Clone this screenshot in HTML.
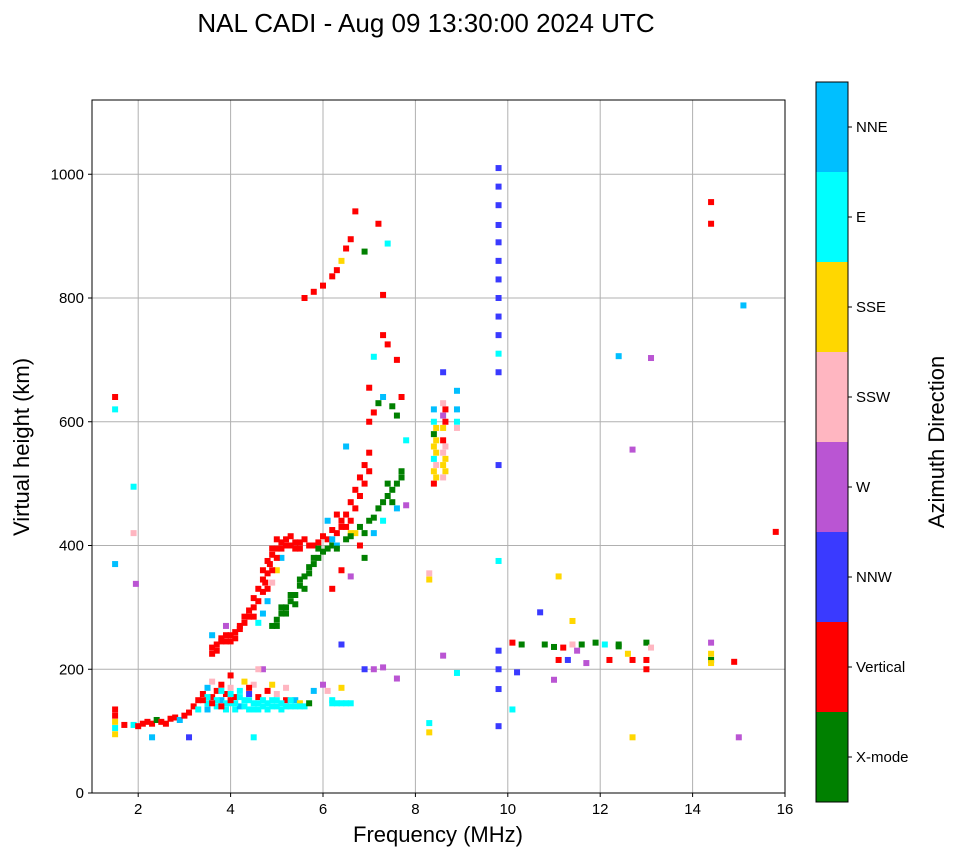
<!DOCTYPE html>
<html><head><meta charset="utf-8"><style>
body{margin:0;background:#fff;}
svg{display:block;font-family:"Liberation Sans","DejaVu Sans",sans-serif;}
</style></head><body>
<svg id="chart" width="958" height="857">
<text x="426" y="32" font-size="26" text-anchor="middle">NAL CADI - Aug 09 13:30:00 2024 UTC</text>
<g id="grid"></g>
<g id="marks"></g>
<rect x="92" y="100" width="693" height="693" fill="none" stroke="#000" stroke-width="1"/>
<g id="axes"></g>
<text x="438" y="842" font-size="22" text-anchor="middle">Frequency (MHz)</text>
<text transform="translate(29,447) rotate(-90)" font-size="22" text-anchor="middle">Virtual height (km)</text>
<g id="cbar"></g>
<text transform="translate(944,442) rotate(-90)" font-size="22" text-anchor="middle">Azimuth Direction</text>
</svg>
<script>
const xTicks=[2,4,6,8,10,12,14,16];
const yTicks=[0,200,400,600,800,1000];
const dirNames=["X-mode","Vertical","NNW","W","SSW","SSE","E","NNE"];
const dirColors=["#008000","#ff0000","#3a3aff","#ba55d3","#ffb6c1","#ffd700","#00ffff","#00bfff"];
const freqs=[1.5,1.5,1.5,1.5,1.5,1.5,1.5,1.5,1.7,1.9,2.0,2.1,2.2,2.3,2.4,2.5,2.6,2.7,2.8,2.9,3.0,3.1,3.2,3.3,3.3,2.3,3.1,1.9,1.9,1.95,
3.4,3.5,3.5,3.6,3.6,3.7,3.7,3.8,3.8,3.9,3.9,4.0,4.0,4.1,4.1,4.2,4.2,4.3,4.3,4.4,4.4,4.5,4.5,4.6,4.6,4.7,4.7,4.8,4.8,4.9,4.9,5.0,5.0,5.1,5.2,5.2,5.3,5.4,5.5,5.6,5.7,5.8,6.0,6.1,6.2,6.3,6.5,6.4,4.5,4.0,4.6,
3.6,3.7,3.8,3.9,4.0,4.1,4.2,4.3,4.4,4.5,4.6,4.7,4.75,4.8,4.85,4.9,5.0,5.1,5.2,5.3,5.4,5.5,5.6,5.8,6.0,6.2,6.3,6.4,4.7,4.6,4.8,4.9,5.0,5.1,3.6,3.9,
4.9,5.0,5.1,5.2,5.3,5.4,5.5,5.6,5.7,5.8,5.9,6.0,6.2,6.5,6.8,7.0,7.2,7.4,7.6,7.7,7.5,6.9,
6.1,6.3,6.5,6.6,6.7,6.8,6.9,7.0,6.5,6.3,6.6,6.8,7.1,7.3,7.6,6.6,6.4,6.2,7.0,7.1,7.2,7.3,7.5,7.6,7.8,7.7,7.8,
5.6,5.8,6.0,6.2,6.3,6.4,6.5,6.6,6.7,6.9,7.2,7.4,7.3,7.3,7.4,7.6,7.1,7.0,
8.4,8.4,8.4,8.4,8.4,8.4,8.4,8.6,8.6,8.6,8.6,8.6,8.6,8.6,8.6,8.9,8.9,8.9,8.9,8.3,8.3,8.3,8.3,8.6,8.9,
9.8,9.8,9.8,9.8,9.8,9.8,9.8,9.8,9.8,9.8,9.8,9.8,9.8,9.8,9.8,9.8,9.8,9.8,
10.1,10.3,10.8,11.0,11.2,11.4,11.5,11.3,11.1,11.6,11.9,12.1,12.4,12.4,12.7,12.6,13.0,13.1,13.0,13.0,12.2,11.0,11.7,10.2,10.1,10.7,11.1,11.4,12.4,13.1,12.7,12.7,14.4,14.4,14.4,14.4,14.4,14.4,14.9,15.1,15.0,15.8,
7.1,7.3,6.9,6.4,7.6,
3.6,3.7,3.8,3.9,4.0,4.1,4.2,4.3,4.4,4.5,4.5,4.6,4.7,4.7,4.8,4.8,4.9,4.9,5.0,5.0,5.1,5.2,5.3,5.4,5.5,5.7,5.9,6.1,6.2,6.4,6.5,6.6,6.7,6.8,6.9,6.7,7.0,
5.0,5.1,5.2,5.3,5.4,5.5,5.6,5.7,5.8,5.9,6.1,6.3,6.6,6.9,7.1,7.3,7.5,7.7,7.4,
3.5,3.7,3.9,4.1,4.3,4.5,4.7,4.9,5.1,5.3,5.5,4.2,4.4,4.6,4.8,5.0,3.8,4.0,5.2,5.4,6.4,6.6,6.2,3.4,3.6,3.8,4.0,3.5,4.4,
8.45,8.45,8.45,8.45,8.45,8.65,8.65,8.65,8.65,8.65];
const heights=[95,105,115,125,135,370,640,620,110,110,108,112,115,112,118,115,112,120,122,118,125,130,140,150,135,90,90,495,420,338,
160,170,145,155,180,165,140,150,175,160,135,145,170,155,135,165,140,150,180,135,160,145,175,135,155,200,140,165,135,150,175,140,160,135,150,170,140,150,145,140,145,165,175,165,145,145,145,170,90,190,200,
225,240,250,245,255,260,265,275,285,300,310,325,340,355,370,385,395,405,410,400,395,405,410,400,415,425,420,430,290,275,310,340,360,380,255,270,
270,280,290,300,310,320,335,350,365,380,395,390,400,410,430,440,460,480,500,520,470,380,
440,450,450,470,490,510,530,550,560,400,420,400,420,440,460,350,360,330,600,615,630,640,625,610,570,640,465,
800,810,820,835,845,860,880,895,940,875,920,888,805,740,725,700,705,655,
500,520,540,560,580,600,620,510,530,550,570,590,610,630,680,600,620,650,590,345,355,113,98,222,194,
108,168,200,230,375,530,680,710,740,770,800,830,860,890,918,950,980,1010,
243,240,240,236,235,240,230,215,215,240,243,240,240,237,215,225,243,235,215,200,215,183,210,195,135,292,350,278,706,703,555,90,955,920,243,225,215,210,212,788,90,422,
200,203,200,240,185,
235,230,245,255,245,250,270,285,295,285,315,330,345,360,375,330,395,360,410,380,395,400,415,405,395,400,405,410,410,440,430,440,460,480,500,420,520,
270,300,290,320,305,345,330,355,370,380,395,395,415,420,445,470,490,510,500,
155,150,145,145,140,135,150,140,145,150,140,155,150,145,145,150,165,160,140,140,145,145,150,150,145,140,150,135,170,
510,530,550,570,590,520,540,560,600,620];
const dirs=[5,6,5,1,1,7,1,6,1,6,1,1,1,1,0,1,1,1,1,7,1,1,1,1,6,7,2,6,4,3,
1,7,6,1,4,1,6,7,1,1,6,6,4,1,6,6,7,6,5,6,2,6,4,6,1,3,6,1,6,6,5,6,4,6,1,4,6,7,5,6,0,7,3,4,6,6,6,5,6,1,4,
1,1,1,1,1,1,1,1,1,1,1,1,1,1,1,1,1,1,1,1,1,1,1,1,1,1,1,1,7,6,7,4,5,7,7,3,
0,0,0,0,0,0,0,0,0,0,0,0,0,0,0,0,0,0,0,0,0,0,
7,1,1,1,1,1,1,1,7,7,5,1,7,6,7,3,1,1,1,1,0,7,0,0,6,1,3,
1,1,1,1,1,5,1,1,1,0,1,6,1,1,1,1,6,1,
1,5,6,5,0,6,7,4,5,4,1,5,3,4,2,6,7,7,4,5,4,6,5,3,6,
2,2,2,2,6,2,2,6,2,2,2,2,2,2,2,2,2,2,
1,0,0,0,1,4,3,2,1,0,0,6,0,0,1,5,0,4,1,1,1,3,3,2,6,2,5,5,7,3,3,5,1,1,3,5,0,5,1,7,3,1,
3,3,2,2,3,
1,1,1,1,1,1,1,1,1,1,1,1,1,1,1,1,1,1,1,1,1,1,1,1,1,1,1,1,7,1,1,1,1,1,1,5,1,
0,0,0,0,0,0,0,0,0,0,0,0,0,0,0,0,0,0,0,
6,6,6,6,6,6,6,6,6,6,6,6,6,6,6,6,6,6,6,6,6,6,6,1,1,1,1,7,1,
5,4,5,5,5,5,5,4,1,1];
const X0=92,X1=785,Y0=793,Y1=100,FMIN=1,FMAX=16,HMIN=0,HMAX=1120;
function xs(f){return X0+(f-FMIN)/(FMAX-FMIN)*(X1-X0);}
function ys(h){return Y0-(h-HMIN)/(HMAX-HMIN)*(Y0-Y1);}
const NS="http://www.w3.org/2000/svg";
function mk(tag,attrs,parent){const e=document.createElementNS(NS,tag);for(const k in attrs)e.setAttribute(k,attrs[k]);parent.appendChild(e);return e;}
const grid=document.getElementById('grid'),axes=document.getElementById('axes'),marks=document.getElementById('marks'),cbar=document.getElementById('cbar');
xTicks.forEach(t=>{const x=xs(t);
 const g=mk('line',{x1:x,x2:x,y1:Y1,y2:Y0,stroke:'#b0b0b0','stroke-width':1},grid);
 
 
 mk('line',{x1:x,x2:x,y1:Y0,y2:Y0+4,stroke:'#000'},axes);
 const l=mk('text',{x:x,y:Y0+21,'font-size':15,'text-anchor':'middle'},axes);l.textContent=t;
 
 
});
yTicks.forEach(t=>{const y=ys(t);
 const g=mk('line',{x1:X0,x2:X1,y1:y,y2:y,stroke:'#b0b0b0','stroke-width':1},grid);
 
 
 mk('line',{x1:X0-4,x2:X0,y1:y,y2:y,stroke:'#000'},axes);
 const l=mk('text',{x:X0-8,y:y+5,'font-size':15,'text-anchor':'end'},axes);l.textContent=t;
 
 
});
for(let i=0;i<freqs.length;i++){
 const r=mk('rect',{x:xs(freqs[i])-3,y:ys(heights[i])-3,width:6,height:6,fill:dirColors[dirs[i]]},marks);
 
 
}
const CB_X=816,CB_W=32,CB_T=82,CB_B=802,seg=(CB_B-CB_T)/dirNames.length;
dirNames.forEach((n,i)=>{const y=CB_B-(i+1)*seg;
 const r=mk('rect',{x:CB_X,y:y,width:CB_W,height:seg,fill:dirColors[i]},cbar);
 
 
 mk('line',{x1:CB_X+CB_W,x2:CB_X+CB_W+4,y1:y+seg/2,y2:y+seg/2,stroke:'#000'},cbar);
 const t=mk('text',{x:CB_X+CB_W+8,y:y+seg/2+5,'font-size':15},cbar);t.textContent=n;
 
 
});
mk('rect',{x:CB_X,y:CB_T,width:CB_W,height:CB_B-CB_T,fill:'none',stroke:'#000'},cbar);
</script>
</body></html>
